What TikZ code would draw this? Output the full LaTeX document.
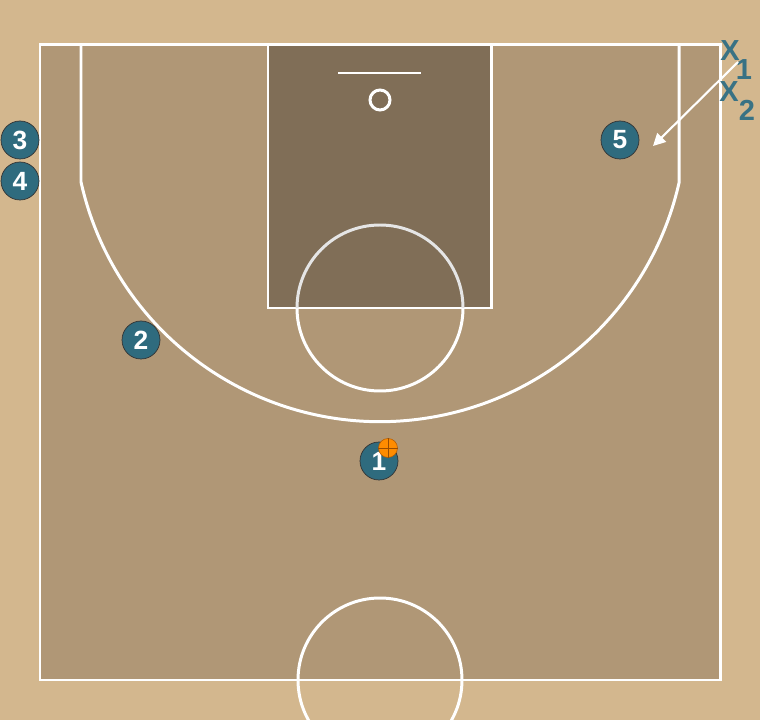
\documentclass[tikz,border=0pt]{standalone}
\usepackage{fontspec}
\setsansfont{Liberation Sans}
\usetikzlibrary{arrows.meta}
\definecolor{wood}{RGB}{211,183,142}
\definecolor{floor}{RGB}{176,151,118}
\definecolor{paint}{RGB}{128,110,87}
\definecolor{team}{RGB}{47,107,126}
\tikzset{
  player/.style={circle, fill=team, draw=black!80, line width=0.4pt, minimum size=0.76cm, inner sep=0pt,
    text=white, font=\sffamily\bfseries\fontsize{15}{15}\selectfont},
  courtline/.style={white, line width=1.7pt},
  defender/.style={text=team!95!white, inner sep=0pt, font=\sffamily\bfseries\fontsize{16.5}{16.5}\selectfont}
}

\begin{document}
\begin{tikzpicture}[x=0.02cm, y=0.02cm]
\clip (0,0) rectangle (760,720);
\fill[wood] (0,0) rectangle (760,720);

% court
\fill[floor] (40,40) rectangle (720,675);
\fill[paint] (268,412) rectangle (491,675);
\draw[courtline] (40,40) rectangle (720,675);
\draw[courtline] (268,412) rectangle (491,675);
\draw[courtline] (81,675) -- (81,538) arc[start angle=192.6, end angle=347.4, radius=306.5] -- (679,675);
\draw[white!80!gray, line width=1.7pt] (463,412) arc[start angle=0, end angle=180, radius=83];
\draw[courtline] (297,412) arc[start angle=180, end angle=360, radius=83];
\draw[courtline] (380,40) circle[radius=82];
\draw[white, line width=1.3pt] (338,647) -- (421,647);
\node[circle, draw=white, line width=1.7pt, minimum size=0.4cm, inner sep=0pt] (rim) at (380,620) {};

% players
\node[player] (p3) at (20,580) {3};
\node[player] (p4) at (20,539) {4};
\node[player] (p2) at (141,380) {2};
\node[player] (p5) at (620,580) {5};
\node[player] (p1) at (379,259) {1};
\node[circle, fill=orange!90!yellow, draw=orange!70!black, line width=0.3pt, minimum size=0.38cm, inner sep=0pt] (ball) at (388,272) {};
\draw[orange!60!black, line width=0.3pt] (ball.north) -- (ball.south) (ball.west) -- (ball.east);

% defenders
\node[defender] (x1) at (730,669) {X};
\node[defender] (n1) at (744,650) {1};
\node[defender] (x2) at (729,628) {X};
\node[defender] (n2) at (747,610) {2};

\coordinate (start) at (738,658);
\coordinate (cut) at (653,574);
\draw[-{Triangle[length=7pt, width=7pt]}, white, line width=1.2pt] (start) -- (cut);
%\draw (current bounding box.south west) rectangle (current bounding box.north east);
\end{tikzpicture}
\end{document}
